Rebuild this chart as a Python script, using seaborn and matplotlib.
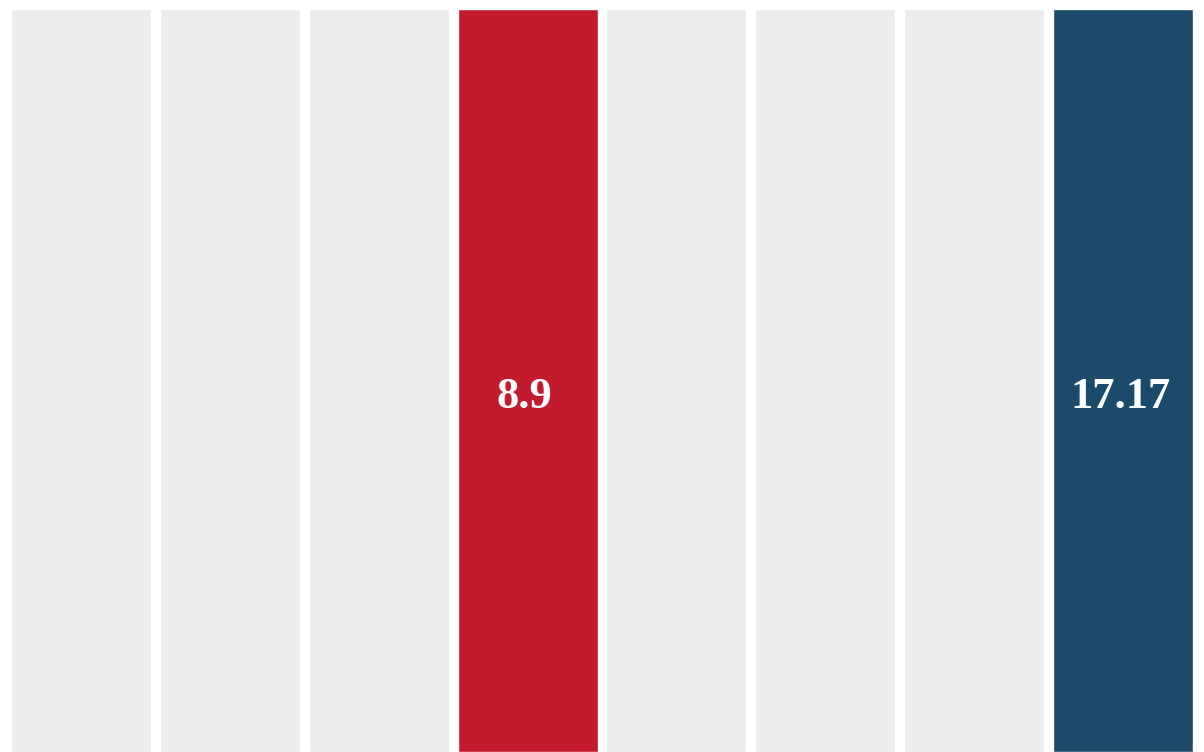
import matplotlib
matplotlib.use("Agg")
import matplotlib.pyplot as plt
import seaborn as sns
import pandas as pd

categories = ["c1", "c2", "c3", "c4", "c5", "c6", "c7", "c8"]
heights = [1, 1, 1, 1, 1, 1, 1, 1]
labels = ["", "", "", "8.9", "", "", "", "17.17"]
bar_colors = ["#ECECEC", "#ECECEC", "#ECECEC", "#C41A2E",
              "#ECECEC", "#ECECEC", "#ECECEC", "#1B4A6B"]

df = pd.DataFrame({"cat": categories, "h": heights})

sns.set_theme(style="white")
fig = plt.figure(figsize=(12.04, 7.52), dpi=100)
ax = fig.add_axes([11 / 1204, 0, 1182 / 1204, 743 / 752])

sns.barplot(data=df, x="cat", y="h", hue="cat", palette=bar_colors,
            legend=False, width=0.94, saturation=1, ax=ax)

ax.set_xlim(-0.47, len(categories) - 0.53)
ax.set_ylim(0, 1)
ax.axis("off")

for i, lab in enumerate(labels):
    if lab:
        ax.text(i - 0.02, 0.463, lab, ha="center", va="baseline", color="white",
                fontsize=32, fontweight="heavy", family="Liberation Serif")

fig.savefig("out.png", dpi=100)
